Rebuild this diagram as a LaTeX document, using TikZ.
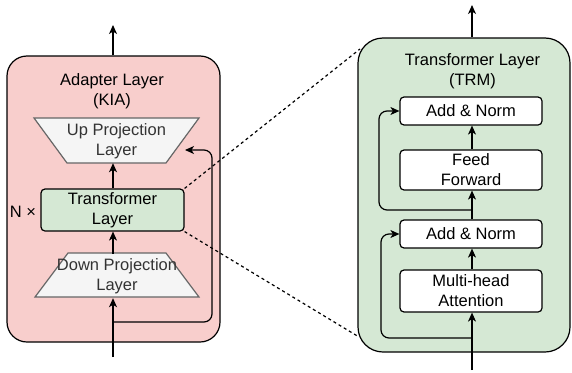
\documentclass[tikz,border=0pt]{standalone}
\usepackage{fontspec}
\setmainfont{Liberation Sans}
\usetikzlibrary{arrows.meta,calc}
\definecolor{redfill}{HTML}{F8CECC}
\definecolor{greenfill}{HTML}{D5E8D4}
\definecolor{grayfill}{HTML}{F5F5F5}
\definecolor{graystroke}{HTML}{666666}
\definecolor{graytext}{HTML}{333333}
\begin{document}
\begin{tikzpicture}[x=1pt,y=-1pt,
  font=\fontsize{16.5}{20}\selectfont,
  lw/.style={line width=1.2pt},
  panel/.style={draw=black, lw, rectangle, inner sep=0pt},
  blk/.style={draw=black, lw, fill=white, rounded corners=4pt, minimum width=142pt, align=center, inner sep=0pt},
  traptext/.style={text=graytext, align=center, inner sep=0pt, minimum height=44pt},
  trap/.style={draw=graystroke, fill=grayfill, lw},
  arr/.style={lw, -{Stealth[length=9pt,width=8pt,inset=2.5pt]}},
  skip/.style={arr, rounded corners=8pt},
  link/.style={lw, dash pattern=on 3pt off 3pt},
  lbl/.style={align=center, inner sep=0pt}
]
\useasboundingbox (0,0) rectangle (572,372);

% ---------- left panel ----------
\node[panel, fill=redfill, rounded corners=20pt, minimum width=213pt, minimum height=286pt] (kia) at (113.5,199) {};
\node[lbl] (kiatitle) at (112,91) {Adapter Layer\\(KIA)};

\draw[trap] (34,118) -- (199,118) -- (166,163) -- (67,163) -- cycle;
\node[traptext] (up) at (116.5,141) {Up Projection\\Layer};

\node[blk, fill=greenfill, minimum width=143pt, minimum height=42pt] (tl) at (112.5,210) {Transformer\\Layer};

\draw[trap] (68,253) -- (166,253) -- (199,297) -- (35,297) -- cycle;
\node[traptext] (down) at (117,276) {Down Projection\\Layer};

\node[lbl] (nx) at (23,212) {N ×};

\coordinate (kiaout) at (113,25);
\coordinate (kiain) at (113,357);
\coordinate (kiaskip) at (113,322);
\coordinate (upin) at (185,150);

\draw[arr] (kiain |- kia.north) -- (kiaout);
\draw[arr] (kiain) -- (kiain |- down.south);
\draw[arr] (kiain |- down.north) -- (kiain |- tl.south);
\draw[arr] (kiain |- tl.north) -- (kiain |- up.south);
\draw[skip] (kiaskip) -- (212,322) -- (212,150) -- (upin);

% ---------- right panel ----------
\node[panel, fill=greenfill, rounded corners=25pt, minimum width=212pt, minimum height=314pt] (trm) at (464,195) {};
\node[lbl] (trmtitle) at (472.5,71) {Transformer Layer\\(TRM)};

\node[blk, minimum height=28pt] (an1) at (471,111) {Add \& Norm};
\node[blk, minimum height=40pt] (ff) at (471,170) {Feed\\Forward};
\node[blk, minimum height=28pt] (an2) at (471,234) {Add \& Norm};
\node[blk, minimum height=42pt] (mha) at (471,291) {Multi-head\\Attention};

\coordinate (trmout) at (472,5);
\coordinate (trmin) at (472,370);
\coordinate (skipa) at (472,210);
\coordinate (skipb) at (472,338);

\draw[arr] (trmin |- trm.north) -- (trmout);
\draw[arr] (trmin) -- (trmin |- mha.south);
\draw[arr] (trmin |- mha.north) -- (trmin |- an2.south);
\draw[arr] (trmin |- an2.north) -- (trmin |- ff.south);
\draw[arr] (trmin |- ff.north) -- (trmin |- an1.south);
\draw[skip] (skipa) -- (379,210) -- (379,111) -- (an1.west);
\draw[skip] (skipb) -- (381,338) -- (381,234) -- (an2.west);

% ---------- zoom links ----------
\coordinate (dtop) at (360,49);
\coordinate (dbot) at (359,337);
\draw[link] (tl.north east) -- (dtop);
\draw[link] (tl.south east) -- (dbot);
\end{tikzpicture}
\end{document}
